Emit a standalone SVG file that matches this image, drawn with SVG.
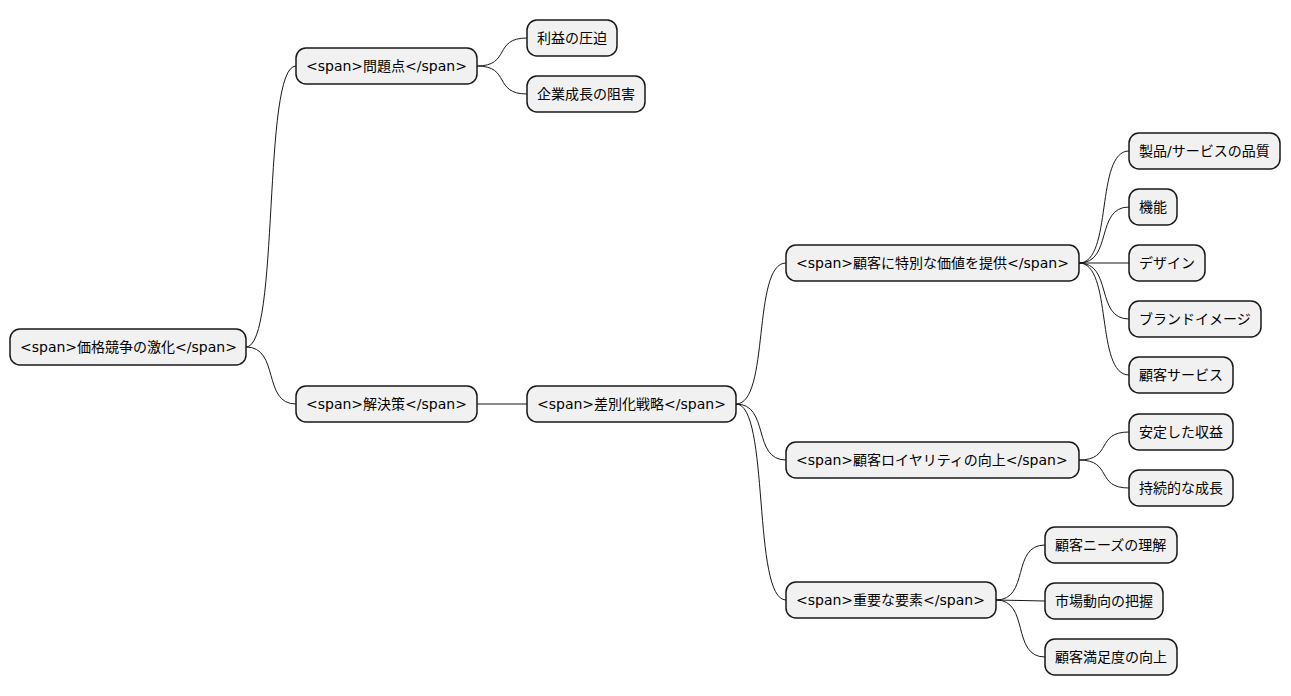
<svg xmlns="http://www.w3.org/2000/svg" width="1291" height="696" viewBox="0 0 1291 696">
<style>
.n rect{fill:#F1F1F1;stroke:#181818;stroke-width:1.5}
.n text{font-family:"DejaVu Sans","Noto Sans CJK JP",sans-serif;font-size:14px;fill:#000}
#c path{fill:none;stroke:#181818;stroke-width:1}
</style>
<rect width="1291" height="696" fill="#fff"/>
<g id="c">
<path d="M246,347 C280,347 262,66 296,66"/>
<path d="M246,347 C280,347 262,404 296,404"/>
<path d="M477,66 C511,66 493,38 527,38"/>
<path d="M477,66 C511,66 493,94 527,94"/>
<path d="M477,404 L527,404"/>
<path d="M736,404 C770,404 752,263 786,263"/>
<path d="M736,404 C770,404 752,460 786,460"/>
<path d="M736,404 C770,404 752,600 786,600"/>
<path d="M1079,263 C1113,263 1095,151 1129,151"/>
<path d="M1079,263 C1113,263 1095,207 1129,207"/>
<path d="M1079,263 L1129,263"/>
<path d="M1079,263 C1113,263 1095,319 1129,319"/>
<path d="M1079,263 C1113,263 1095,375 1129,375"/>
<path d="M1079,460 C1113,460 1095,432 1129,432"/>
<path d="M1079,460 C1113,460 1095,488 1129,488"/>
<path d="M996,600 C1030,600 1011,545 1045,545"/>
<path d="M996,600 L1045,601"/>
<path d="M996,600 C1030,600 1011,657 1045,657"/>
</g>
<g id="root" class="n"><rect x="10" y="329" width="236" height="36" rx="10"/><text x="20" y="352">&lt;span&gt;価格競争の激化&lt;/span&gt;</text></g>
<g id="mondai" class="n"><rect x="296" y="48" width="181" height="36" rx="10"/><text x="306" y="71">&lt;span&gt;問題点&lt;/span&gt;</text></g>
<g id="rieki" class="n"><rect x="527" y="20" width="90" height="36" rx="10"/><text x="537" y="43">利益の圧迫</text></g>
<g id="kigyo" class="n"><rect x="527" y="76" width="118" height="36" rx="10"/><text x="537" y="99">企業成長の阻害</text></g>
<g id="kaiketsu" class="n"><rect x="296" y="386" width="181" height="36" rx="10"/><text x="306" y="409">&lt;span&gt;解決策&lt;/span&gt;</text></g>
<g id="sabetsu" class="n"><rect x="527" y="386" width="209" height="36" rx="10"/><text x="537" y="409">&lt;span&gt;差別化戦略&lt;/span&gt;</text></g>
<g id="kachi" class="n"><rect x="786" y="245" width="293" height="36" rx="10"/><text x="796" y="268">&lt;span&gt;顧客に特別な価値を提供&lt;/span&gt;</text></g>
<g id="hinshitsu" class="n"><rect x="1129" y="133" width="151" height="36" rx="10"/><text x="1139" y="156">製品/サービスの品質</text></g>
<g id="kino" class="n"><rect x="1129" y="189" width="48" height="36" rx="10"/><text x="1139" y="212">機能</text></g>
<g id="design" class="n"><rect x="1129" y="245" width="76" height="36" rx="10"/><text x="1139" y="268">デザイン</text></g>
<g id="brand" class="n"><rect x="1129" y="301" width="132" height="36" rx="10"/><text x="1139" y="324">ブランドイメージ</text></g>
<g id="service" class="n"><rect x="1129" y="357" width="104" height="36" rx="10"/><text x="1139" y="380">顧客サービス</text></g>
<g id="loyalty" class="n"><rect x="786" y="442" width="293" height="36" rx="10"/><text x="796" y="465">&lt;span&gt;顧客ロイヤリティの向上&lt;/span&gt;</text></g>
<g id="antei" class="n"><rect x="1129" y="414" width="104" height="36" rx="10"/><text x="1139" y="437">安定した収益</text></g>
<g id="jizoku" class="n"><rect x="1129" y="470" width="104" height="36" rx="10"/><text x="1139" y="493">持続的な成長</text></g>
<g id="juyo" class="n"><rect x="786" y="582" width="210" height="36" rx="10"/><text x="796" y="605">&lt;span&gt;重要な要素&lt;/span&gt;</text></g>
<g id="needs" class="n"><rect x="1045" y="527" width="132" height="36" rx="10"/><text x="1055" y="550">顧客ニーズの理解</text></g>
<g id="shijo" class="n"><rect x="1045" y="583" width="118" height="36" rx="10"/><text x="1055" y="606">市場動向の把握</text></g>
<g id="manzoku" class="n"><rect x="1045" y="639" width="132" height="36" rx="10"/><text x="1055" y="662">顧客満足度の向上</text></g>
</svg>
